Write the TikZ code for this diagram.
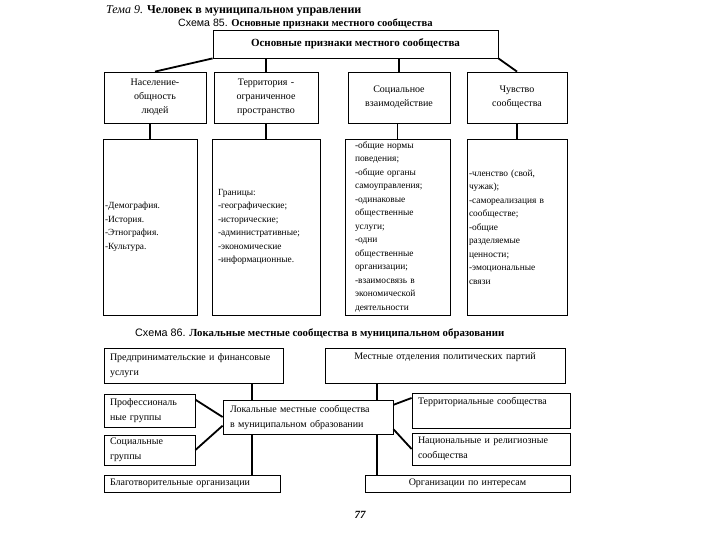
\documentclass[tikz,border=0pt]{standalone}
\usepackage{fontspec}
\setmainfont{Liberation Serif}
\newfontfamily\sansf{Liberation Sans}
\usetikzlibrary{calc}
\newcommand\smallfs{\fontsize{9.4}{13.5}\selectfont}
\newcommand\headfs{\fontsize{10}{14}\selectfont}
\newcommand\lowfs{\fontsize{10}{15}\selectfont}
\begin{document}
\begin{tikzpicture}[x=1pt,y=-1pt,
  box/.style={draw, line width=0.8pt, inner ysep=0pt, rectangle},
  up/.style={box, font=\smallfs},
  head/.style={box, font=\headfs},
  low/.style={box, font=\lowfs},
  conn/.style={line width=1.8pt},
  sz/.style n args={3}{minimum width=#1, minimum height=#2, inner xsep=#3, text width=#1-2*#3}]
\useasboundingbox[fill=white] (0,0) rectangle (720,540);

% titles
\node[anchor=base west, inner sep=0, font=\fontsize{12}{14}\selectfont] (t1) at (106,14)
  {\textit{Тема 9.} \textbf{Человек в муниципальном управлении}};
\node[anchor=base west, inner sep=0, font=\fontsize{10.6}{12}\selectfont] (t2) at (178,27)
  {{\sansf Схема 85.} \textbf{Основные признаки местного сообщества}};

% top box
\node[box, minimum width=285, minimum height=28, font=\fontsize{11}{13}\selectfont\bfseries] (top) at (355.5,44)
  {Основные признаки местного сообщества};

% level 2
\node[head, sz={102}{51}{2}, align=center] (b1) at (155,97.5) {Население-\\общность\\людей};
\node[head, sz={104}{51}{2}, align=center] (b2) at (266,97.5) {Территория -\\ограниченное\\пространство};
\node[head, sz={102}{51}{2}, align=center] (b3) at (399,97.5) {Социальное\\взаимодействие};
\node[head, sz={100}{51}{2}, align=center] (b4) at (517,97.5) {Чувство\\сообщества};

% level 3
\node[up, sz={94}{176}{2}, align=left] (c1) at (150,227) {-Демография.\\-История.\\-Этнография.\\-Культура.};
\node[up, sz={108}{176}{6}, align=left] (c2) at (266,227)
  {Границы:\\-географические;\\-исторические;\\-административные;\\-экономические\\-информационные.};
\node[up, sz={105}{176}{10}, align=left] (c3) at (397.5,227)
  {-общие нормы\\поведения;\\-общие органы\\самоуправления;\\-одинаковые\\общественные\\услуги;\\-одни\\общественные\\организации;\\-взаимосвязь в\\экономической\\деятельности};
\node[up, sz={100}{176}{2}, align=left] (c4) at (517,227)
  {-членство (свой,\\чужак);\\-самореализация в\\сообществе;\\-общие\\разделяемые\\ценности;\\-эмоциональные\\связи};

% connectors upper
\draw[conn] (top.south west) -- (b1.north);
\draw[conn] (top.south east) -- (b4.north);
\draw[conn] (b2.north) -- (b2.north |- top.south);
\draw[conn] (b3.north) -- (b3.north |- top.south);
\draw[conn] (c1.north |- b1.south) -- (c1.north);
\draw[conn] (c2.north |- b2.south) -- (c2.north);
\draw[conn] (c3.north |- b3.south) -- (c3.north);
\draw[conn] (c4.north |- b4.south) -- (c4.north);

% schema 86 title
\node[anchor=base west, inner sep=0, font=\fontsize{10.8}{12}\selectfont] (t3) at (135,336)
  {{\sansf Схема 86.} \textbf{Локальные местные сообщества в муниципальном образовании}};

% lower boxes
\node[low, sz={179}{35}{6}, align=left] (pred) at (193.5,365.5) {Предпринимательские и финансовые\\услуги};
\node[low, sz={240}{35}{4}, align=center] (part) at (445,365.5) {Местные отделения политических партий\\\strut};
\node[low, sz={170}{34}{7}, align=left] (loc) at (308,417) {Локальные местные сообщества\\в муниципальном образовании};
\node[low, sz={91}{33}{6}, align=left] (prof) at (149.5,410.5) {Профессиональ\\ные группы};
\node[low, sz={91}{30}{6}, align=left] (soc) at (149.5,450) {Социальные\\группы};
\node[low, sz={176}{17}{6}, align=left] (blag) at (192,483.5) {Благотворительные организации};
\node[low, sz={158}{35}{6}, align=left] (terr) at (491,410.5) {Территориальные сообщества\\\strut};
\node[low, sz={158}{32}{6}, align=left] (nat) at (491,449) {Национальные и религиозные\\сообщества};
\node[low, sz={205}{17}{4}, align=center] (org) at (467.5,483.5) {Организации по интересам};

% page number
\node[anchor=base, inner sep=0, font=\fontsize{11}{13}\selectfont\bfseries\itshape] (pg) at (360,518) {77};

% lower connectors
\coordinate (v1) at (252,0);
\coordinate (v2) at (377,0);
\draw[conn] (v1 |- pred.south) -- (v1 |- loc.north);
\draw[conn] (v2 |- part.south) -- (v2 |- loc.north);
\draw[conn] (v1 |- loc.south) -- (v1 |- blag.north);
\draw[conn] (v2 |- loc.south) -- (v2 |- org.north);
\draw[conn] ($(prof.north east)!0.18!(prof.south east)$) -- ($(loc.north west)!0.5!(loc.south west)$);
\draw[conn] (soc.east) -- ($(loc.north west)!0.75!(loc.south west)$);
\draw[conn] ($(loc.north east)!0.15!(loc.south east)$) -- ($(terr.north west)!0.15!(terr.south west)$);
\draw[conn] ($(loc.north east)!0.85!(loc.south east)$) -- (nat.west);
\end{tikzpicture}
\end{document}
